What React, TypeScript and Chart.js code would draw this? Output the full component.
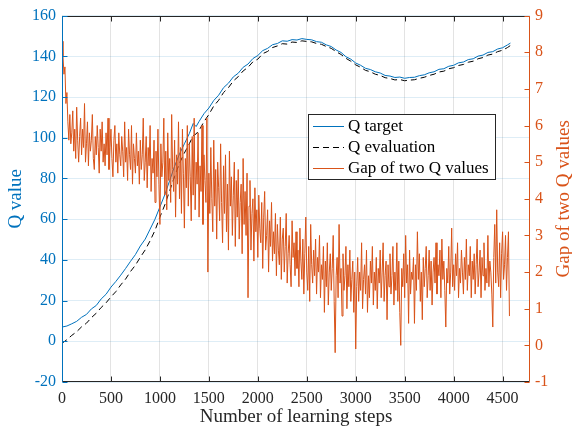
import React, { useEffect, useRef } from "react";
import { Chart, registerables } from "chart.js";

Chart.register(...registerables);

const FONT = "'Liberation Serif', 'Times New Roman', serif";
const BLUE = "#0072BD";
const ORANGE = "#D95319";
const DARK = "#262626";

Chart.defaults.font.family = FONT;

const stepTicks = [0, 500, 1000, 1500, 2000, 2500, 3000, 3500, 4000, 4500];
const qTicks = [-20, 0, 20, 40, 60, 80, 100, 120, 140, 160];
const gapTicks = [-1, 0, 1, 2, 3, 4, 5, 6, 7, 8, 9];

const curveSteps = [
  0, 50, 100, 150, 200, 250, 300, 350, 400, 450,
  500, 550, 600, 650, 700, 750, 800, 850, 900, 950,
  1000, 1050, 1100, 1150, 1200, 1250, 1300, 1340, 1370, 1400,
  1450, 1500, 1550, 1600, 1650, 1700, 1750, 1800, 1850, 1900,
  1950, 2000, 2050, 2100, 2150, 2200, 2250, 2300, 2350, 2400,
  2450, 2500, 2550, 2600, 2650, 2700, 2750, 2800, 2850, 2900,
  2950, 3000, 3050, 3100, 3150, 3200, 3250, 3300, 3350, 3400,
  3450, 3500, 3550, 3600, 3650, 3700, 3750, 3800, 3850, 3900,
  3950, 4000, 4050, 4100, 4150, 4200, 4250, 4300, 4350, 4400,
  4450, 4500, 4550, 4580,
];

const qTarget = [
  7.0, 7.5, 8.6, 9.8, 11.8, 13.2, 15.9, 17.6, 20.8, 23.1,
  26.6, 29.4, 32.5, 35.8, 39.3, 42.6, 46.8, 50.2, 55.1, 60.0,
  66.0, 72.0, 79.0, 86.0, 92.0, 97.0, 102.0, 107.0, 105.5, 108.0,
  111.8, 114.6, 118.3, 120.9, 124.6, 126.8, 129.9, 131.7, 134.6, 136.2,
  138.9, 140.4, 142.8, 143.9, 145.7, 146.3, 147.6, 147.4, 148.2, 148.0,
  148.7, 148.3, 148.1, 147.2, 146.9, 145.6, 144.8, 143.1, 141.9, 139.8,
  138.6, 136.7, 135.6, 134.1, 133.5, 132.4, 131.8, 130.6, 130.3, 129.6,
  129.8, 129.2, 129.6, 129.7, 130.5, 130.9, 131.9, 132.4, 133.6, 133.9,
  135.1, 135.6, 136.8, 137.2, 138.4, 138.8, 140.1, 140.6, 141.9, 142.3,
  143.6, 144.2, 145.6, 146.5,
];

const qEvaluation = [
  -1.0, 0.8, 2.9, 4.7, 7.1, 8.9, 11.6, 13.8, 16.6, 18.9,
  21.8, 24.4, 27.7, 30.6, 34.3, 37.4, 41.3, 44.9, 49.4, 54.5,
  61.0, 67.0, 74.0, 81.0, 87.5, 92.5, 97.0, 101.0, 101.9, 103.6,
  107.9, 111.4, 115.6, 118.4, 122.2, 124.6, 127.9, 130.0, 132.8, 134.6,
  137.3, 138.6, 141.3, 142.4, 144.3, 145.1, 146.2, 146.0, 147.0, 146.8,
  147.6, 147.3, 147.1, 146.3, 145.9, 144.8, 143.9, 142.3, 140.9, 139.0,
  137.6, 135.8, 134.6, 133.1, 132.4, 131.2, 130.6, 129.5, 129.1, 128.4,
  128.6, 128.0, 128.3, 128.5, 129.2, 129.7, 130.6, 131.2, 132.3, 132.7,
  133.9, 134.4, 135.5, 136.0, 137.1, 137.6, 138.8, 139.4, 140.6, 141.1,
  142.3, 143.0, 144.3, 145.3,
];

// gap of the two Q values, sampled every 10 learning steps from step 0
const gapValues = [
  8.3, 7.9, 7.4, 7.6, 6.6, 6.9, 6.1, 5.6, 6.3, 5.5, 5.8, 6.4, 5.3, 5.9, 5.1, 6.5, 5.6, 5.0, 5.7, 6.2,
  5.2, 5.9, 5.4, 6.6, 5.0, 5.5, 6.1, 4.9, 5.8, 5.3, 5.6, 6.3, 5.1, 4.8, 5.7, 5.2, 6.0, 5.4, 4.7, 5.9,
  5.3, 6.1, 5.0, 5.5, 4.9, 5.8, 5.2, 6.2, 4.8, 5.4, 5.9, 5.1, 4.6, 5.6, 6.0, 5.0, 5.5, 4.7, 5.8, 5.2,
  4.9, 5.7, 5.3, 4.6, 6.1, 5.0, 5.4, 4.5, 5.9, 5.2, 4.8, 6.0, 4.4, 5.5, 5.1, 4.7, 5.8, 4.9, 5.3, 4.4,
  5.6, 4.8, 5.2, 6.2, 4.5, 5.0, 5.7, 4.3, 5.4, 4.9, 6.0, 4.2, 5.1, 4.7, 5.6, 3.9, 5.3, 4.6, 5.9, 4.4,
  3.3, 5.5, 4.6, 5.0, 6.2, 4.1, 5.3, 3.7, 5.8, 4.5, 5.1, 3.9, 6.3, 4.8, 4.2, 5.6, 3.5, 5.2, 4.4, 6.1,
  4.0, 5.4, 3.6, 5.9, 4.7, 3.2, 5.1, 4.3, 6.0, 3.8, 5.5, 4.6, 3.4, 5.7, 4.1, 6.2, 3.7, 5.0, 4.4, 5.8,
  3.5, 4.9, 4.2, 6.0, 3.3, 5.2, 4.5, 3.9, 6.2, 2.0, 4.7, 3.6, 5.4, 4.0, 3.1, 5.6, 3.8, 4.8, 2.9, 5.0,
  4.3, 3.4, 5.5, 3.9, 2.8, 4.9, 3.6, 5.2, 3.1, 4.4, 2.6, 5.3, 3.8, 4.6, 3.0, 4.1, 5.0, 2.7, 4.5, 3.5,
  4.8, 2.9, 3.9, 4.4, 2.5, 5.1, 3.3, 4.2, 3.0, 4.7, 1.3, 3.8, 4.5, 2.6, 3.6, 4.0, 2.3, 4.3, 3.1, 3.7,
  2.4, 4.1, 3.2, 2.8, 3.9, 2.1, 3.5, 4.2, 2.6, 3.0, 3.7, 2.0, 3.4, 2.7, 3.9, 2.3, 3.1, 2.5, 3.6, 1.9,
  3.3, 2.6, 2.2, 3.5, 1.8, 2.9, 3.2, 2.0, 2.7, 3.6, 1.7, 2.5, 3.0, 2.2, 1.6, 3.4, 2.4, 2.8, 1.9, 3.1,
  2.1, 2.6, 1.6, 3.2, 2.3, 1.8, 2.9, 1.4, 2.5, 3.5, 2.0, 1.5, 2.7, 1.2, 3.3, 2.2, 1.7, 2.6, 1.9, 2.9,
  1.4, 2.4, 2.0, 3.0, 1.3, 2.2, 1.8, 2.7, 0.9, 2.3, 1.6, 2.8, 1.1, 2.0, 2.5, 1.5, 2.1, 3.0, 1.2, -0.2,
  1.9, 2.4, 1.3, 3.3, 1.7, 2.1, 0.8, 2.5, 1.5, 1.9, 2.7, 1.0, 2.2, 1.6, 2.6, 1.2, 1.8, 2.3, 0.9, 2.0,
  -0.1, 1.6, 2.4, 1.2, 2.0, 1.5, 2.8, 1.0, 1.8, 2.2, 1.4, 2.6, 0.9, 1.9, 1.3, 2.3, 1.7, 2.7, 1.1, 2.0,
  1.5, 2.4, 1.0, 2.1, 1.7, 2.6, 1.3, 2.0, 2.8, 1.2, 1.9, 2.3, 0.7, 2.2, 1.6, 2.5, 1.4, 1.9, 2.7, 1.1,
  2.0, 1.5, 2.8, 1.2, 2.3, 0.9, 0.0, 2.1, 1.6, 2.5, 1.3, 3.0, 1.7, 2.2, 0.6, 2.6, 1.4, 2.0, 1.8, 2.4,
  0.6, 2.2, 1.5, 3.1, 1.8, 2.5, 1.2, 2.0, 0.7, 2.4, 1.6, 2.1, 2.7, 1.3, 1.9, 2.6, 1.5, 2.3, 1.1, 2.0,
  2.4, 1.7, 2.8, 1.4, 2.2, 1.9, 2.6, 1.3, 2.9, 1.8, 2.3, 1.5, 0.5, 2.1, 1.7, 2.7, 1.4, 2.0, 3.2, 1.6,
  2.2, 1.5, 2.5, 1.9, 2.8, 1.3, 2.1, 1.7, 2.6, 2.0, 1.4, 2.4, 1.8, 2.9, 1.5, 2.2, 1.9, 2.7, 1.3, 2.3,
  1.8, 2.5, 1.4, 2.2, 2.9, 1.6, 2.0, 2.6, 1.3, 2.4, 1.9, 2.8, 1.5, 2.1, 1.7, 3.0, 1.6, 2.3, 2.0, 1.4,
  0.5, 2.4, 3.3, 1.7, 3.7, 2.0, 1.6, 2.8, 1.3, 2.5, 3.1, 1.8, 2.2, 3.0, 1.5, 2.4, 3.1, 0.8,
];
const GAP_STEP = 10;

const legendItems = ["Q target", "Q evaluation", "Gap of two Q values"];
const xTitle = "Number of learning steps";
const leftTitle = "Q value";
const rightTitle = "Gap of two Q values";

const framePlugin = {
  id: "matlabFrame",
  afterDraw(chart: any) {
    const { ctx, chartArea: a, scales } = chart;
    const L = Math.round(a.left) + 0.5;
    const R = Math.round(a.right) - 0.5;
    const T = Math.round(a.top) + 0.5;
    const B = Math.round(a.bottom) - 0.5;
    ctx.save();
    ctx.lineWidth = 1;
    ctx.strokeStyle = DARK;
    ctx.beginPath();
    ctx.moveTo(L, T); ctx.lineTo(R, T);
    ctx.moveTo(L, B); ctx.lineTo(R, B);
    for (const t of stepTicks) {
      const x = Math.round(scales.x.getPixelForValue(t)) + 0.5;
      ctx.moveTo(x, B); ctx.lineTo(x, B - 5);
      ctx.moveTo(x, T); ctx.lineTo(x, T + 5);
    }
    ctx.stroke();
    ctx.strokeStyle = BLUE;
    ctx.beginPath();
    ctx.moveTo(L, T); ctx.lineTo(L, B);
    for (const t of qTicks) {
      const y = Math.round(scales.y.getPixelForValue(t)) + 0.5;
      ctx.moveTo(L, y); ctx.lineTo(L + 5, y);
    }
    ctx.stroke();
    ctx.strokeStyle = ORANGE;
    ctx.beginPath();
    ctx.moveTo(R, T); ctx.lineTo(R, B);
    for (const t of gapTicks) {
      const y = Math.round(scales.y2.getPixelForValue(t)) + 0.5;
      ctx.moveTo(R, y); ctx.lineTo(R - 5, y);
    }
    ctx.stroke();

    ctx.font = `19px ${FONT}`;
    ctx.textAlign = "center";
    ctx.textBaseline = "middle";
    ctx.fillStyle = DARK;
    ctx.fillText(xTitle, (a.left + a.right) / 2, 417);
    const midY = (a.top + a.bottom) / 2;
    ctx.save();
    ctx.translate(16, midY);
    ctx.rotate(-Math.PI / 2);
    ctx.fillStyle = BLUE;
    ctx.fillText(leftTitle, 0, 0);
    ctx.restore();
    ctx.save();
    ctx.translate(564, midY);
    ctx.rotate(-Math.PI / 2);
    ctx.fillStyle = ORANGE;
    ctx.fillText(rightTitle, 0, 0);
    ctx.restore();

    const bx = 308.5, by = 114.5, bw = 187, bh = 65;
    ctx.fillStyle = "#ffffff";
    ctx.fillRect(bx, by, bw, bh);
    ctx.strokeStyle = DARK;
    ctx.lineWidth = 1;
    ctx.strokeRect(bx, by, bw, bh);
    const rows = [126.5, 147.5, 168.5];
    const styles = [
      { c: BLUE, d: [] as number[] },
      { c: "#000000", d: [6, 4] },
      { c: ORANGE, d: [] as number[] },
    ];
    ctx.font = `17px ${FONT}`;
    ctx.textAlign = "left";
    ctx.textBaseline = "middle";
    legendItems.forEach((label, i) => {
      ctx.strokeStyle = styles[i].c;
      ctx.setLineDash(styles[i].d);
      ctx.beginPath();
      ctx.moveTo(313, rows[i]);
      ctx.lineTo(344, rows[i]);
      ctx.stroke();
      ctx.setLineDash([]);
      ctx.fillStyle = "#000000";
      ctx.fillText(label, 348, rows[i] + 0.5);
    });
    ctx.restore();
  },
};

const plainLabel = (v: any) => String(v);

export default function App() {
  const ref = useRef<HTMLCanvasElement | null>(null);
  useEffect(() => {
    if (!ref.current) return;
    const chart = new Chart(ref.current, {
      type: "line",
      data: {
        datasets: [
          {
            label: legendItems[2],
            data: gapValues.map((v, i) => ({ x: i * GAP_STEP, y: v })),
            yAxisID: "y2",
            borderColor: ORANGE,
            borderWidth: 1,
            pointRadius: 0,
            tension: 0,
            order: 0,
          },
          {
            label: legendItems[0],
            data: curveSteps.map((s, i) => ({ x: s, y: qTarget[i] })),
            yAxisID: "y",
            borderColor: BLUE,
            borderWidth: 1,
            pointRadius: 0,
            tension: 0,
            order: 2,
          },
          {
            label: legendItems[1],
            data: curveSteps.map((s, i) => ({ x: s, y: qEvaluation[i] })),
            yAxisID: "y",
            borderColor: "#000000",
            borderDash: [6, 4],
            borderWidth: 1,
            pointRadius: 0,
            tension: 0,
            order: 1,
          },
        ],
      },
      options: {
        animation: false,
        responsive: false,
        events: [],
        layout: { padding: { top: 13, left: 0, right: 0, bottom: 0 } },
        plugins: { legend: { display: false }, tooltip: { enabled: false } },
        scales: {
          x: {
            type: "linear",
            min: 0,
            max: 4780,
            afterBuildTicks: (s: any) => { s.ticks = stepTicks.map((v) => ({ value: v })); },
            afterFit: (s: any) => { s.height = 52; },
            grid: { color: "rgba(38,38,38,0.13)", drawTicks: false },
            border: { display: false },
            ticks: { color: DARK, font: { family: FONT, size: 16 }, padding: 7, maxRotation: 0, callback: plainLabel },
          },
          y: {
            type: "linear",
            position: "left",
            min: -20,
            max: 160,
            afterBuildTicks: (s: any) => { s.ticks = qTicks.map((v) => ({ value: v })); },
            afterFit: (s: any) => { s.width = 62; },
            grid: { color: "rgba(0,114,189,0.13)", drawTicks: false },
            border: { display: false },
            ticks: { color: BLUE, font: { family: FONT, size: 16 }, padding: 6, callback: plainLabel },
          },
          y2: {
            type: "linear",
            position: "right",
            min: -1,
            max: 9,
            afterBuildTicks: (s: any) => { s.ticks = gapTicks.map((v) => ({ value: v })); },
            afterFit: (s: any) => { s.width = 42; },
            grid: { display: false, drawTicks: false },
            border: { display: false },
            ticks: { color: ORANGE, font: { family: FONT, size: 16 }, padding: 5, callback: plainLabel },
          },
        },
      },
      plugins: [framePlugin],
    });
    return () => chart.destroy();
  }, []);
  return (
    <div style={{ position: "absolute", left: 0, top: 0, width: 572, height: 434, background: "#fff" }}>
      <canvas ref={ref} width={572} height={434} style={{ display: "block" }} />
    </div>
  );
}
